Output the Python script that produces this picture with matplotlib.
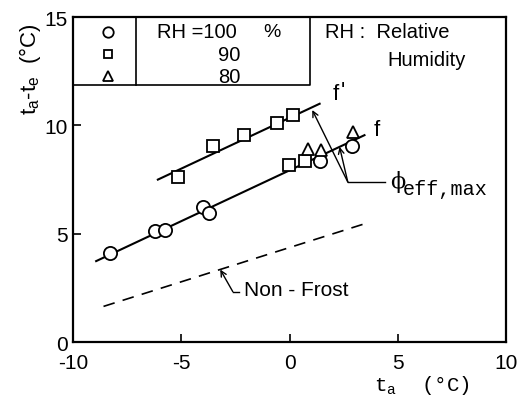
import matplotlib
matplotlib.use("Agg")
import matplotlib.pyplot as plt

plt.rcParams["axes.unicode_minus"] = False

# data
rh100_x = [-8.27, -6.2, -5.73, -4.0, -3.74, 1.39, 2.9]
rh100_y = [4.1, 5.12, 5.19, 6.23, 5.97, 8.37, 9.06]
rh90_x = [-5.13, -3.54, -2.11, -0.59, 0.15, -0.03, 0.72]
rh90_y = [7.6, 9.04, 9.55, 10.12, 10.48, 8.19, 8.37]
rh80_x = [0.85, 1.43, 2.92]
rh80_y = [8.89, 8.86, 9.71]

f_prime_x = [-6.08, 1.39]
f_prime_y = [7.5, 11.0]
f_x = [-8.93, 3.46]
f_y = [3.74, 9.55]
nonfrost_x = [-8.59, 3.46]
nonfrost_y = [1.65, 5.46]

x_ticks = [-10, -5, 0, 5, 10]
y_ticks = [0, 5, 10, 15]
legend_rows = ["RH =100", "90", "80"]

sans = "Liberation Sans"
mono = "Liberation Mono"

fig = plt.figure(figsize=(5.25, 4.1), dpi=100)
ax = fig.add_axes([0.139, 0.163, 0.825, 0.793])

lw = 1.5
ax.plot(f_prime_x, f_prime_y, color="black", lw=lw)
ax.plot(f_x, f_y, color="black", lw=lw)
ax.plot(nonfrost_x, nonfrost_y, color="black", lw=1.2, dashes=(7, 5))

mk = dict(mfc="white", mec="black", mew=1.3, ls="none", zorder=3)
ax.plot(rh100_x, rh100_y, marker="o", ms=9.5, **mk)
ax.plot(rh90_x, rh90_y, marker="s", ms=8, **mk)
ax.plot(rh80_x, rh80_y, marker="^", ms=9, **mk)

ax.set_xlim(-10, 10)
ax.set_ylim(0, 15)
ax.set_xticks(x_ticks)
ax.set_yticks(y_ticks)
ax.tick_params(direction="in", length=6, width=1.2, labelsize=15,
               top=False, right=False)
ax.tick_params(axis="x", pad=8)
ax.tick_params(axis="y", pad=4)
for lab in ax.get_xticklabels() + ax.get_yticklabels():
    lab.set_fontfamily(sans)
for sp in ax.spines.values():
    sp.set_linewidth(1.6)

# axis labels
fig.text(0.712, 0.06, r"t$_\mathregular{a}$  (°C)", fontsize=15, family=mono,
         ha="left", va="center")
fig.text(0.057, 0.83, r"t$_\mathregular{a}$-t$_\mathregular{e}$  (°C)", fontsize=16,
         family=sans, rotation=90, ha="center", va="center")

# line labels
ax.text(2.0, 11.45, "f", fontsize=16, family=sans, ha="left", va="center")
ax.text(2.38, 11.6, "'", fontsize=16, family=sans, ha="left", va="center")
ax.text(3.9, 9.8, "f", fontsize=16, family=sans, ha="left", va="center")

# phi_eff,max leader
ax.plot([2.69, 4.39], [7.39, 7.39], color="black", lw=1)
arr = dict(arrowstyle="->", color="black", lw=1, shrinkA=0, shrinkB=0)
ax.annotate("", xy=(1.05, 10.71), xytext=(2.69, 7.39), arrowprops=arr)
ax.annotate("", xy=(2.31, 9.01), xytext=(2.69, 7.39), arrowprops=arr)
ax.text(4.65, 7.45, "\u03d5", fontsize=16, family="DejaVu Serif",
        ha="left", va="center")
ax.text(5.25, 7.1, "eff,max", fontsize=14.5, family=mono, ha="left", va="center")

# Non-Frost leader
ax.plot([-2.62, -2.34], [2.33, 2.33], color="black", lw=1)
ax.annotate("", xy=(-3.2, 3.35), xytext=(-2.62, 2.33), arrowprops=arr)
ax.text(-2.1, 2.42, "Non - Frost", fontsize=15, family=sans, ha="left", va="center")

# legend table in axes coordinates
tr = ax.transAxes
ax.plot([0, 0.547, 0.547], [0.791, 0.791, 1.0], color="black", lw=1.2,
        transform=tr, clip_on=False)
ax.plot([0.1455, 0.1455], [0.791, 1.0], color="black", lw=1.2,
        transform=tr, clip_on=False)
row_y = [0.954, 0.886, 0.818]
for m, yy in zip(["o", "s", "^"], row_y):
    ax.plot([0.08], [yy], marker=m, ms=7.5 if m != "s" else 6, mfc="white",
            mec="black", mew=1.3, transform=tr, clip_on=False)
ax.text(0.193, row_y[0], legend_rows[0], fontsize=14.5, family=sans,
        ha="left", va="center", transform=tr)
ax.text(0.44, row_y[0], "%", fontsize=14, family=sans, ha="left",
        va="center", transform=tr)
for lab, yy in zip(legend_rows[1:], row_y[1:]):
    ax.text(0.386, yy, lab, fontsize=14.5, family=sans, ha="right",
            va="center", transform=tr)
ax.text(0.582, 0.954, "RH :  Relative", fontsize=14.5, family=sans,
        ha="left", va="center", transform=tr)
ax.text(0.727, 0.868, "Humidity", fontsize=14.5, family=sans,
        ha="left", va="center", transform=tr)

fig.savefig("out.png", dpi=100)
